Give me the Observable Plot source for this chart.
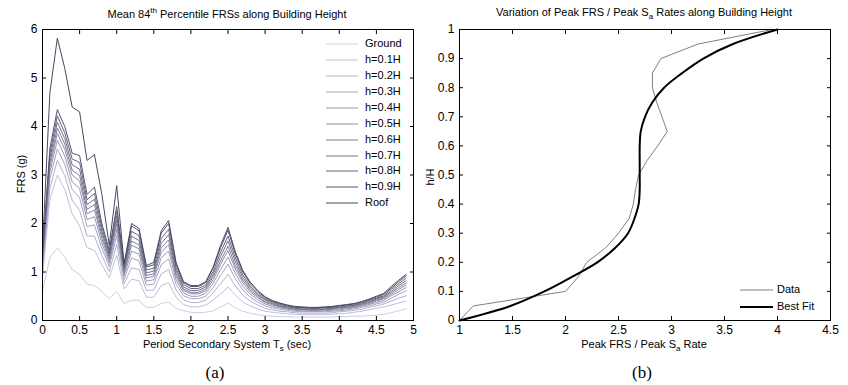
<!DOCTYPE html>
<html><head><meta charset="utf-8">
<script src="https://cdn.jsdelivr.net/npm/d3@7"></script>
<script src="https://cdn.jsdelivr.net/npm/@observablehq/plot@0.6"></script>
<style>
body{margin:0;background:#fff;}
#root{position:relative;width:848px;height:385px;font-family:"Liberation Sans",Arial,sans-serif;color:#000;overflow:hidden;}
.abs{position:absolute;white-space:nowrap;line-height:1;}
.c{transform:translateX(-50%);}
.t{font-size:11px;}
sub,sup{font-size:8px;line-height:0;}
.cap{font-family:"Liberation Serif","Times New Roman",serif;font-size:17px;}
.panel{position:absolute;top:0;}
</style></head><body><div id="root"></div><script>
// ---------- Panel (a) data ----------
const periods = [0,0.1,0.2,0.3,0.4,0.5,0.6,0.7,0.8,0.9,1.0,1.1,1.2,1.3,1.4,1.5,1.6,1.7,1.8,1.9,2.0,2.1,2.2,2.3,2.4,2.5,2.6,2.7,2.8,2.9,3.0,3.1,3.2,3.3,3.4,3.5,3.6,3.7,3.8,3.9,4.0,4.1,4.2,4.3,4.4,4.5,4.6,4.7,4.8,4.9];
const seriesNames = ["Ground","h=0.1H","h=0.2H","h=0.3H","h=0.4H","h=0.5H","h=0.6H","h=0.7H","h=0.8H","h=0.9H","Roof"];
const ground = [0.6,1.3,1.5,1.3,1.05,0.95,0.75,0.72,0.6,0.45, 0.6,0.35,0.42,0.42,0.27,0.27,0.35,0.38,0.25,0.2, 0.17,0.16,0.17,0.2,0.28,0.36,0.26,0.19,0.15,0.12, 0.1,0.09,0.08,0.08,0.07,0.07,0.07,0.07,0.07,0.07, 0.08,0.08,0.09,0.09,0.1,0.11,0.13,0.16,0.2,0.24];
const h01 = [0.9,2.5,3.0,2.7,2.2,1.95,1.5,1.45,1.15,0.88, 1.35,0.65,0.85,0.82,0.48,0.48,0.72,0.78,0.48,0.33, 0.28,0.28,0.32,0.42,0.55,0.69,0.52,0.38,0.3,0.24, 0.19,0.17,0.15,0.14,0.13,0.12,0.12,0.12,0.12,0.13, 0.14,0.15,0.17,0.19,0.22,0.25,0.28,0.32,0.36,0.4];
const h02 = [1.01,2.73,3.30,2.99,2.48,2.27,1.74,1.74,1.34,1.01, 1.57,0.76,1.09,1.05,0.62,0.63,0.96,1.05,0.63,0.43, 0.37,0.37,0.42,0.57,0.76,0.95,0.71,0.52,0.4,0.32, 0.25,0.22,0.19,0.18,0.16,0.15,0.15,0.15,0.15,0.16, 0.18,0.19,0.21,0.23,0.27,0.3,0.34,0.4,0.46,0.51];
const h03 = [1.1,2.92,3.54,3.22,2.70,2.53,1.94,1.97,1.49,1.11, 1.75,0.85,1.29,1.23,0.73,0.75,1.15,1.27,0.75,0.51, 0.45,0.45,0.5,0.68,0.93,1.16,0.86,0.63,0.48,0.38, 0.3,0.26,0.23,0.21,0.19,0.18,0.18,0.18,0.18,0.19, 0.2,0.22,0.24,0.27,0.3,0.34,0.38,0.46,0.54,0.61];
const h04 = [1.17,3.06,3.72,3.39,2.86,2.72,2.08,2.14,1.6,1.18, 1.88,0.92,1.43,1.37,0.81,0.84,1.29,1.43,0.84,0.57, 0.5,0.5,0.56,0.77,1.05,1.31,0.97,0.71,0.54,0.43, 0.34,0.29,0.26,0.23,0.21,0.2,0.19,0.19,0.2,0.21, 0.22,0.24,0.26,0.29,0.33,0.37,0.42,0.51,0.59,0.68];
const h05 = [1.22,3.17,3.86,3.53,3.0,2.88,2.2,2.28,1.69,1.24, 1.99,0.97,1.55,1.48,0.88,0.91,1.41,1.56,0.91,0.62, 0.55,0.55,0.61,0.84,1.16,1.44,1.06,0.78,0.59,0.47, 0.37,0.32,0.28,0.25,0.23,0.22,0.21,0.21,0.22,0.23, 0.24,0.26,0.28,0.31,0.35,0.4,0.45,0.54,0.64,0.73];
const h06 = [1.26,3.26,3.97,3.64,3.1,2.99,2.29,2.39,1.76,1.29, 2.07,1.01,1.64,1.56,0.93,0.96,1.5,1.66,0.96,0.65, 0.58,0.58,0.65,0.9,1.23,1.53,1.13,0.83,0.63,0.5, 0.39,0.34,0.29,0.26,0.24,0.23,0.22,0.22,0.23,0.24, 0.26,0.27,0.29,0.33,0.37,0.42,0.47,0.57,0.68,0.77];
const h07 = [1.31,3.35,4.09,3.75,3.21,3.12,2.39,2.5,1.84,1.34, 2.16,1.06,1.74,1.65,0.98,1.02,1.59,1.77,1.02,0.69, 0.62,0.62,0.69,0.95,1.32,1.64,1.21,0.88,0.67,0.53, 0.42,0.36,0.31,0.28,0.25,0.24,0.23,0.23,0.24,0.25, 0.27,0.29,0.31,0.34,0.39,0.44,0.49,0.6,0.72,0.82];
const h08 = [1.35,3.45,4.22,3.87,3.33,3.26,2.49,2.62,1.92,1.39, 2.25,1.1,1.84,1.75,1.04,1.08,1.69,1.88,1.08,0.74, 0.66,0.66,0.73,1.01,1.41,1.74,1.29,0.94,0.71,0.56, 0.44,0.38,0.33,0.29,0.27,0.26,0.25,0.25,0.26,0.27, 0.28,0.3,0.32,0.36,0.41,0.46,0.51,0.64,0.76,0.87];
const h09 = [1.4,3.55,4.35,4.0,3.45,3.4,2.6,2.75,2.0,1.45, 2.35,1.15,1.95,1.85,1.1,1.15,1.8,2.0,1.15,0.78, 0.7,0.7,0.78,1.08,1.5,1.86,1.37,1.0,0.76,0.6, 0.47,0.4,0.35,0.31,0.28,0.27,0.26,0.26,0.27,0.28, 0.3,0.32,0.34,0.38,0.43,0.48,0.54,0.67,0.8,0.92];
const roof = [1.5,4.7,5.82,5.2,4.4,4.3,3.3,3.42,2.6,1.55, 2.78,1.17,2.0,1.9,1.13,1.2,1.85,2.06,1.2,0.8, 0.72,0.72,0.8,1.1,1.55,1.92,1.41,1.03,0.79,0.62, 0.49,0.41,0.36,0.32,0.29,0.28,0.27,0.27,0.28,0.29, 0.31,0.33,0.35,0.39,0.44,0.5,0.56,0.7,0.83,0.95];
const xTicksA = [0,0.5,1,1.5,2,2.5,3,3.5,4,4.5,5];
const yTicksA = [0,1,2,3,4,5,6];

// ---------- Panel (b) data ----------
const hLevels = [0,0.05,0.1,0.15,0.2,0.25,0.3,0.35,0.4,0.45,0.5,0.55,0.6,0.65,0.7,0.75,0.8,0.85,0.9,0.95,1];
const dataRate = [1.0,1.13,2.0,2.12,2.2,2.38,2.5,2.6,2.64,2.66,2.69,2.77,2.87,2.96,2.91,2.86,2.82,2.82,2.9,3.25,3.95];
const fitRate  = [1.0,1.48,1.8,2.06,2.3,2.47,2.59,2.65,2.69,2.7,2.7,2.7,2.7,2.71,2.75,2.82,2.93,3.1,3.3,3.58,4.0];
const xTicksB = [1,1.5,2,2.5,3,3.5,4,4.5];
const yTicksB = [0,0.1,0.2,0.3,0.4,0.5,0.6,0.7,0.8,0.9,1];

const palette = ["#cdcdeb","#c0c0dd","#b2b2d0","#a5a5c2","#9898b4","#8b8ba7","#7d7d99","#70708b","#63637d","#555570","#484862"];

// ---------- build ----------
const allSeries = [ground,h01,h02,h03,h04,h05,h06,h07,h08,h09,roof];
const frsRows = [];
allSeries.forEach((arr, si) => arr.forEach((v, i) => frsRows.push({series: seriesNames[si], T: periods[i], v})));
const ratioRows = hLevels.map((h, i) => ({h, data: dataRate[i], fit: fitRate[i]}));

const font = "Liberation Sans, Arial, sans-serif";
function frameAxes(xt, yt) {
  const fmt = d => String(d);
  return [
    Plot.axisX(xt, {anchor: "bottom", tickSize: -4, tickPadding: 9, tickFormat: fmt, label: null}),
    Plot.axisX(xt, {anchor: "top", tickSize: -4, tickFormat: () => "", label: null}),
    Plot.axisY(yt, {anchor: "left", tickSize: -4, tickPadding: 9, tickFormat: fmt, label: null}),
    Plot.axisY(yt, {anchor: "right", tickSize: -4, tickFormat: () => "", label: null}),
    Plot.frame({stroke: "#000", strokeWidth: 1})
  ];
}

const plotA = Plot.plot({
  width: 424, height: 355, marginLeft: 42, marginRight: 11, marginTop: 29, marginBottom: 35,
  style: {fontSize: "12px", fontFamily: font, background: "transparent", color: "#000"},
  x: {domain: [0, 5], label: null},
  y: {domain: [0, 6], label: null},
  color: {domain: seriesNames, range: palette},
  marks: [
    Plot.line(frsRows, {x: "T", y: "v", z: "series", stroke: "series", strokeWidth: 1}),
    ...frameAxes(xTicksA, yTicksA)
  ]
});

const plotB = Plot.plot({
  width: 424, height: 355, marginLeft: 35, marginRight: 18, marginTop: 29, marginBottom: 35,
  style: {fontSize: "12px", fontFamily: font, background: "transparent", color: "#000"},
  x: {domain: [1, 4.5], label: null},
  y: {domain: [0, 1], label: null},
  marks: [
    Plot.line(ratioRows, {x: "data", y: "h", stroke: "#808080", strokeWidth: 1}),
    Plot.line(ratioRows, {x: "fit", y: "h", stroke: "#000", strokeWidth: 2, curve: "catmull-rom"}),
    ...frameAxes(xTicksB, yTicksB)
  ]
});

const root = document.getElementById("root");
const pa = document.createElement("div"); pa.className = "panel"; pa.style.left = "0px"; pa.appendChild(plotA); root.appendChild(pa);
const pb = document.createElement("div"); pb.className = "panel"; pb.style.left = "424px"; pb.appendChild(plotB); root.appendChild(pb);

function addText(html, x, y, cls, extra) {
  const d = document.createElement("div");
  d.className = "abs " + cls;
  d.style.left = x + "px"; d.style.top = y + "px";
  if (extra) Object.assign(d.style, extra);
  d.innerHTML = html;
  root.appendChild(d);
  return d;
}
// titles
addText("Mean 84<sup>th</sup> Percentile FRSs along Building Height", 227, 9, "t c");
addText("Variation of Peak FRS / Peak S<sub>a</sub> Rates along Building Height", 644, 7, "t c");
// x labels
addText("Period Secondary System T<sub>s</sub> (sec)", 227, 339, "t c");
addText("Peak FRS / Peak S<sub>a</sub> Rate", 644, 339, "t c");
// y labels
addText("FRS (g)", 21, 174, "t", {transform: "translate(-50%,-50%) rotate(-90deg)"});
addText("h/H", 430, 177, "t", {transform: "translate(-50%,-50%) rotate(-90deg)"});
// captions
addText("(a)", 215, 364, "cap c");
addText("(b)", 642, 364, "cap c");

// legends
function legendRow(label, color, width, y, x0, x1, xt) {
  const s = document.createElementNS("http://www.w3.org/2000/svg", "svg");
  s.setAttribute("width", x1 - x0); s.setAttribute("height", 6);
  s.style.position = "absolute"; s.style.left = x0 + "px"; s.style.top = (y - 3) + "px";
  const l = document.createElementNS("http://www.w3.org/2000/svg", "line");
  l.setAttribute("x1", 0); l.setAttribute("x2", x1 - x0); l.setAttribute("y1", 3); l.setAttribute("y2", 3);
  l.setAttribute("stroke", color); l.setAttribute("stroke-width", width);
  s.appendChild(l); root.appendChild(s);
  addText(label, xt, y - 6, "t");
}
seriesNames.forEach((n, i) => legendRow(n, palette[i], 1, 44 + i * 15.93, 326, 358, 365));
legendRow("Data", "#808080", 1, 290, 740, 773, 777);
legendRow("Best Fit", "#000", 2, 306.5, 740, 773, 777);
</script></body></html>
